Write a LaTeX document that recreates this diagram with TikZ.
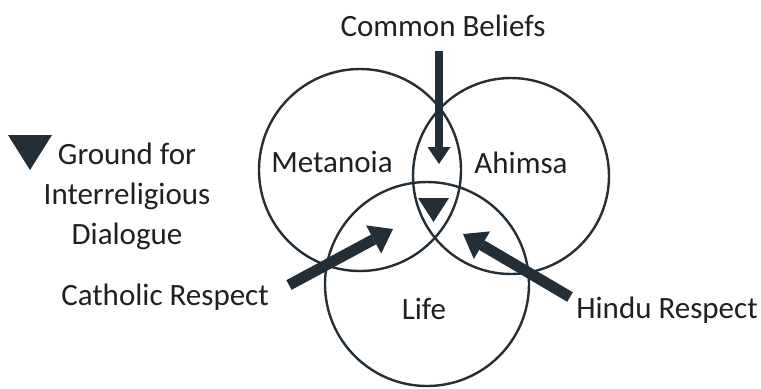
\documentclass[tikz,border=0pt]{standalone}
\usepackage{fontspec}
\setmainfont{Carlito}
\usetikzlibrary{arrows.meta}
\definecolor{SlateDark}{RGB}{36, 46, 54}
\definecolor{InkGrey}{RGB}{30, 32, 35}

\begin{document}
\begin{tikzpicture}[x=0.5pt, y=-0.5pt,
    every node/.style={text=InkGrey, font=\fontsize{15.5}{20}\selectfont},
    ring/.style={circle, draw=SlateDark, line width=1.2pt, inner sep=0pt},
    pointer/.style={SlateDark, line width=5.5pt,
        -{Triangle[width=16pt, length=11pt, line width=0pt]}}]
    \useasboundingbox (0,0) rectangle (761,388);
    % Three overlapping circles
    \node[ring, minimum size=101pt] (cMeta) at (360,170) {};
    \node[ring, minimum size=98pt] (cAhimsa) at (511,176) {};
    \node[ring, minimum size=102pt] (cLife) at (427,284) {};
    % Labels
    \node (metanoia) at (332,162) {Metanoia};
    \node (ahimsa) at (521,163) {Ahimsa};
    \node (life) at (424,309) {Life};
    \node (common) at (443,26) {Common Beliefs};
    \node (catholic) at (165,297) {Catholic Respect};
    \node (hindu) at (667,310) {Hindu Respect};
    \node[align=center] (legend) at (127,196) {Ground for\\Interreligious\\Dialogue};
    % Ground markers
    \fill[SlateDark] (8,135) -- (52,135) -- (30,170) -- cycle;
    \fill[SlateDark] (418,198) -- (449,198) -- (433.5,222) -- cycle;
    % Arrows toward the shared core
    \coordinate (commonTail) at (439,51);
    \coordinate (commonTip) at (439,164);
    \coordinate (catholicTail) at (289,285);
    \coordinate (catholicTip) at (393,229);
    \coordinate (hinduTail) at (570,297);
    \coordinate (hinduTip) at (463,234);
    \draw[pointer, line width=4pt,
        -{Triangle[width=11.5pt, length=8.5pt, line width=0pt]}] (commonTail) -- (commonTip);
    \draw[pointer] (catholicTail) -- (catholicTip);
    \draw[pointer] (hinduTail) -- (hinduTip);
\end{tikzpicture}
\end{document}
